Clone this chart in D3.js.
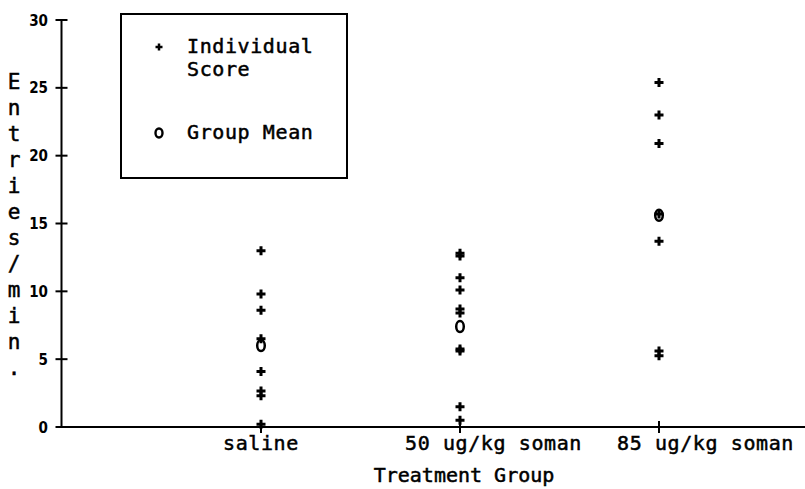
<!DOCTYPE html>
<html>
<head>
<meta charset="utf-8">
<script src="https://cdn.jsdelivr.net/npm/d3@7"></script>
<style>
  html, body { margin: 0; padding: 0; background: #fff; }
  svg { display: block; }
  .mono { font-family: "DejaVu Sans Mono", "Liberation Mono", monospace; fill: #000; stroke: #000; stroke-width: 0.5px; }
  .tick-num { font-family: "DejaVu Sans", sans-serif; font-weight: bold; font-stretch: condensed; fill: #000; }
</style>
</head>
<body>
<svg id="chart" width="805" height="489"></svg>
<script>
// ---- data ----
const categories = ["saline", "50 ug/kg soman", "85 ug/kg soman"];
const salineScores = [13.0, 9.8, 8.6, 6.5, 4.1, 2.65, 2.3, 0.2];
const soman50Scores = [12.6, 12.8, 11.0, 10.1, 8.7, 8.4, 5.6, 5.75, 1.5, 0.5];
const soman85Scores = [25.4, 23.0, 20.9, 15.7, 13.7, 5.6, 5.25];
const groupMeans = [6.0, 7.4, 15.6];
const yTickValues = [0, 5, 10, 15, 20, 25, 30];
const yAxisTitle = "Entries/min.";
const xAxisTitle = "Treatment Group";
const legendLabels = [["Individual", "Score"], ["Group Mean"]];

// ---- layout ----
const svg = d3.select("#chart");
svg.append("rect").attr("width", 805).attr("height", 489).attr("fill", "#fff");

const y = d3.scaleLinear().domain([0, 30]).range([427, 20]);
const x = d3.scalePoint().domain(categories).range([261, 659]);
const axisX = 61.5;

// plus marker path
const plusPath = (cx, cy, r) => `M${cx - r},${cy}H${cx + r}M${cx},${cy - r}V${cy + r}`;

// ---- y axis ----
const gy = svg.append("g");
gy.append("line").attr("x1", axisX).attr("x2", axisX)
  .attr("y1", y(30)).attr("y2", y(0)).attr("stroke", "#000").attr("stroke-width", 2);
gy.selectAll("line.yt").data(yTickValues).join("line").attr("class", "yt")
  .attr("x1", axisX - 6).attr("x2", axisX + 6)
  .attr("y1", d => y(d)).attr("y2", d => y(d))
  .attr("stroke", "#000").attr("stroke-width", 2);
gy.selectAll("text.yl").data(yTickValues).join("text").attr("class", "yl tick-num")
  .attr("x", 48).attr("y", d => y(d) + 5.5)
  .attr("text-anchor", "end").attr("font-size", 15)
  .text(d => d);

// ---- x axis ----
const gx = svg.append("g");
gx.append("line").attr("x1", axisX - 1).attr("x2", 805)
  .attr("y1", y(0)).attr("y2", y(0)).attr("stroke", "#000").attr("stroke-width", 2);
gx.selectAll("line.xt").data(categories).join("line").attr("class", "xt")
  .attr("x1", d => x(d)).attr("x2", d => x(d))
  .attr("y1", y(0) - 6).attr("y2", y(0) + 6)
  .attr("stroke", "#000").attr("stroke-width", 2);
const labelDx = [-38, -55, -42];
gx.selectAll("text.xl").data(categories).join("text").attr("class", "xl mono")
  .attr("x", (d, i) => x(d) + labelDx[i]).attr("y", 450)
  .attr("font-size", 20).attr("letter-spacing", 0.6)
  .text(d => d);
svg.append("text").attr("class", "mono").attr("x", 464).attr("y", 482)
  .attr("text-anchor", "middle").attr("font-size", 20)
  .text(xAxisTitle);

// y axis title (stacked letters)
svg.append("g").selectAll("text").data(Array.from(yAxisTitle)).join("text")
  .attr("class", "mono").attr("x", 14).attr("y", (d, i) => 89 + i * 26)
  .attr("text-anchor", "middle").attr("font-size", 21)
  .text(d => d);

// ---- points ----
const groups = [salineScores, soman50Scores, soman85Scores];
const pts = [];
groups.forEach((arr, gi) => arr.forEach(v => pts.push({ cat: categories[gi], v })));
svg.append("g").selectAll("path").data(pts).join("path")
  .attr("d", d => plusPath(x(d.cat), y(d.v), 4.5))
  .attr("stroke", "#000").attr("stroke-width", 3).attr("fill", "none");

svg.append("g").selectAll("ellipse").data(groupMeans).join("ellipse")
  .attr("cx", (d, i) => x(categories[i])).attr("cy", d => y(d))
  .attr("rx", 3.8).attr("ry", 5.5)
  .attr("fill", "none").attr("stroke", "#000").attr("stroke-width", 2.5);

// ---- legend ----
const lg = svg.append("g");
lg.append("rect").attr("x", 121).attr("y", 14).attr("width", 226).attr("height", 164)
  .attr("fill", "none").attr("stroke", "#000").attr("stroke-width", 2);
lg.append("path").attr("d", plusPath(159, 47, 3.5))
  .attr("stroke", "#000").attr("stroke-width", 2.5);
lg.append("ellipse").attr("cx", 159).attr("cy", 133).attr("rx", 3.5).attr("ry", 4.5)
  .attr("fill", "none").attr("stroke", "#000").attr("stroke-width", 2.4);
lg.append("text").attr("class", "mono").attr("x", 187).attr("y", 53)
  .attr("font-size", 20).attr("letter-spacing", 0.6).text(legendLabels[0][0]);
lg.append("text").attr("class", "mono").attr("x", 187).attr("y", 76)
  .attr("font-size", 20).attr("letter-spacing", 0.6).text(legendLabels[0][1]);
lg.append("text").attr("class", "mono").attr("x", 187).attr("y", 139)
  .attr("font-size", 20).attr("letter-spacing", 0.6).text(legendLabels[1][0]);
</script>
</body>
</html>
